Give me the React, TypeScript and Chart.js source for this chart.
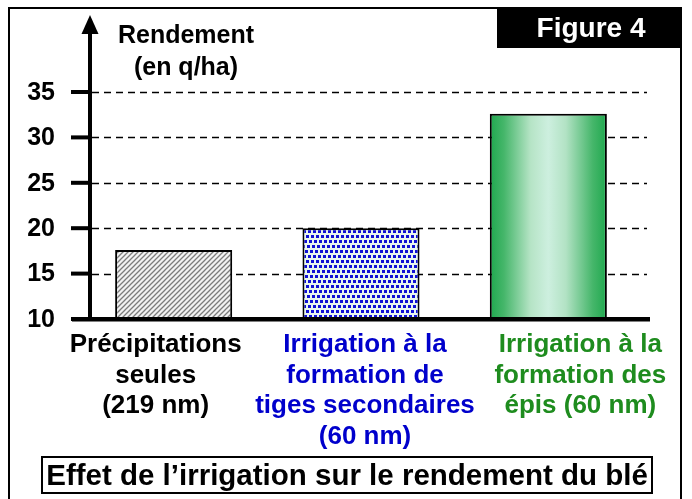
import React, { useEffect, useRef } from "react";
import { Chart, registerables } from "chart.js";

Chart.register(...registerables);

// ---- data ----
const categories: string[][] = [
  ["Précipitations", "seules", "(219 nm)"],
  ["Irrigation à la", "formation de", "tiges secondaires", "(60 nm)"],
  ["Irrigation à la", "formation des", "épis (60 nm)"],
];
const yields: number[] = [17.6, 20.0, 32.6];
const yTicks: number[] = [10, 15, 20, 25, 30, 35];
const yTitle: string[] = ["Rendement", "(en q/ha)"];
const figureLabel = "Figure 4";
const chartTitle = "Effet de l\u2019irrigation sur le rendement du blé";

// ---- style ----
const labelColors = ["#000000", "#0000cc", "#1e8c1e"];
const labelShift = [-18, 4, 32];
const FONT = '"Liberation Sans", Arial, Helvetica, sans-serif';

function makeStripePattern(): CanvasPattern | string {
  const c = document.createElement("canvas");
  c.width = 5;
  c.height = 5;
  const g = c.getContext("2d");
  if (!g) return "#aaa";
  g.fillStyle = "#f2f2f2";
  g.fillRect(0, 0, 5, 5);
  g.strokeStyle = "#7c7c7c";
  g.lineWidth = 1.3;
  g.beginPath();
  g.moveTo(-1, 6);
  g.lineTo(6, -1);
  g.moveTo(-1, 1);
  g.lineTo(1, -1);
  g.moveTo(4, 6);
  g.lineTo(6, 4);
  g.stroke();
  return g.createPattern(c, "repeat") || "#aaa";
}

function makeDotPattern(): CanvasPattern | string {
  const step = 5;
  const n = 5;
  const size = step * n;
  const c = document.createElement("canvas");
  c.width = size;
  c.height = size;
  const g = c.getContext("2d");
  if (!g) return "#88f";
  g.fillStyle = "#e8f5ee";
  g.fillRect(0, 0, size, size);
  g.fillStyle = "#1010d4";
  const rowOff = [0, 3, 1, 4, 2];
  for (let r = 0; r < n; r++) {
    for (let k = 0; k < n; k++) {
      const x = (k * step + rowOff[r]) % size;
      const y = r * step;
      g.fillRect(x, y, 3, 3);
      if (x + 3 > size) g.fillRect(x - size, y, 3, 3);
    }
  }
  return g.createPattern(c, "repeat") || "#88f";
}

export default function App() {
  const ref = useRef<HTMLCanvasElement | null>(null);

  useEffect(() => {
    document.body.style.margin = "0";
    const canvas = ref.current;
    if (!canvas) return;
    const stripe = makeStripePattern();
    const dots = makeDotPattern();

    const deco = {
      id: "deco",
      beforeDatasetsDraw(chart: any) {
        const ctx = chart.ctx as CanvasRenderingContext2D;
        const y = chart.scales.y;
        ctx.save();
        // outer frame
        ctx.strokeStyle = "#000";
        ctx.lineWidth = 2;
        ctx.strokeRect(9, 8, 672, 500);
        // Figure box
        ctx.fillStyle = "#000";
        ctx.fillRect(497, 8, 184, 40);
        ctx.fillStyle = "#fff";
        ctx.font = `bold 28px ${FONT}`;
        ctx.textAlign = "center";
        ctx.textBaseline = "middle";
        ctx.fillText(figureLabel, 591, 29);
        // grid
        ctx.strokeStyle = "#000";
        ctx.lineWidth = 1.6;
        ctx.setLineDash([7, 5]);
        yTicks.forEach((t) => {
          if (t === yTicks[0]) return;
          const py = Math.round(y.getPixelForValue(t)) + 0.5;
          ctx.beginPath();
          ctx.moveTo(92, py);
          ctx.lineTo(647, py);
          ctx.stroke();
        });
        ctx.setLineDash([]);
        // y title
        ctx.fillStyle = "#000";
        ctx.font = `bold 25px ${FONT}`;
        ctx.textAlign = "center";
        ctx.textBaseline = "alphabetic";
        ctx.fillText(yTitle[0], 186, 43);
        ctx.fillText(yTitle[1], 186, 75);
        ctx.restore();
      },
      afterDatasetsDraw(chart: any) {
        const ctx = chart.ctx as CanvasRenderingContext2D;
        const y = chart.scales.y;
        const x = chart.scales.x;
        const y0 = y.getPixelForValue(yTicks[0]);
        ctx.save();
        ctx.fillStyle = "#000";
        ctx.strokeStyle = "#000";
        // baseline
        ctx.fillRect(72, y0 - 2, 578, 4.5);
        // axis
        ctx.fillRect(88, 30, 4, y0 - 30);
        ctx.beginPath();
        ctx.moveTo(90, 15);
        ctx.lineTo(98.5, 34);
        ctx.lineTo(81.5, 34);
        ctx.closePath();
        ctx.fill();
        // ticks and labels
        ctx.font = `bold 25px ${FONT}`;
        ctx.textAlign = "right";
        ctx.textBaseline = "middle";
        yTicks.forEach((t) => {
          const py = y.getPixelForValue(t);
          ctx.fillRect(71, py - 2, 20, 4);
          ctx.fillText(String(t), 55, py + 1);
        });
        // category labels
        ctx.font = `bold 26px ${FONT}`;
        ctx.textAlign = "center";
        ctx.textBaseline = "alphabetic";
        categories.forEach((lines, i) => {
          const cx = x.getPixelForValue(i) + labelShift[i];
          ctx.fillStyle = labelColors[i];
          lines.forEach((ln, j) => {
            ctx.fillText(ln, cx, 352 + j * 30.5);
          });
        });
        // title box
        ctx.fillStyle = "#fff";
        ctx.fillRect(42, 457, 610, 36);
        ctx.strokeStyle = "#000";
        ctx.lineWidth = 2;
        ctx.strokeRect(42, 457, 610, 36);
        ctx.fillStyle = "#000";
        ctx.font = `bold 29.5px ${FONT}`;
        ctx.textAlign = "center";
        ctx.textBaseline = "alphabetic";
        ctx.fillText(chartTitle, 347, 485);
        ctx.restore();
      },
    };

    const chart = new Chart(canvas, {
      type: "bar",
      data: {
        labels: categories.map((c) => c.join(" ")),
        datasets: [
          {
            data: yields,
            backgroundColor: (c: any) => {
              const i = c.dataIndex;
              if (i === 0) return stripe;
              if (i === 1) return dots;
              const ch = c.chart;
              const xs = ch.scales && ch.scales.x;
              if (!xs || !ch.chartArea) return "#5c5";
              const w = (ch.chartArea.width / categories.length) * 0.625;
              const cx = xs.getPixelForValue(i);
              const gr = ch.ctx.createLinearGradient(cx - w / 2, 0, cx + w / 2, 0);
              gr.addColorStop(0, "#1fa84e");
              gr.addColorStop(0.12, "#45b66a");
              gr.addColorStop(0.35, "#b6e4c6");
              gr.addColorStop(0.5, "#cdefdf");
              gr.addColorStop(0.65, "#b2e2c4");
              gr.addColorStop(0.88, "#45b66a");
              gr.addColorStop(1, "#1fa84e");
              return gr;
            },
            borderColor: "#000",
            borderWidth: 2,
            borderSkipped: false,
            barPercentage: 0.625,
            categoryPercentage: 1,
          },
        ],
      },
      options: {
        responsive: false,
        animation: false,
        layout: { padding: { left: 80, right: 50, top: 92, bottom: 180 } },
        plugins: { legend: { display: false }, tooltip: { enabled: false } },
        scales: {
          x: { display: false, offset: true },
          y: { display: false, min: 10, max: 35 },
        },
      },
      plugins: [deco],
    });
    return () => chart.destroy();
  }, []);

  return (
    <div style={{ width: 692, height: 499, background: "#fff" }}>
      <canvas ref={ref} width={692} height={499} style={{ display: "block" }} />
    </div>
  );
}
